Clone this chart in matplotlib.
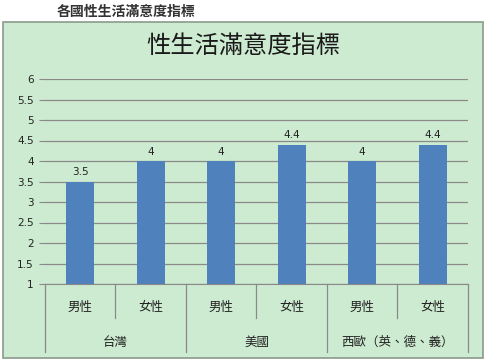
import matplotlib.pyplot as plt
from matplotlib.patches import Rectangle
from matplotlib.transforms import blended_transform_factory

plt.rcParams['font.family'] = ['Noto Sans CJK TC', 'DejaVu Sans']

# data
genders = ["男性", "女性", "男性", "女性", "男性", "女性"]
regions = ["台灣", "美國", "西歐（英、德、義）"]
scores = [3.5, 4, 4, 4.4, 4, 4.4]
y_ticks = [1, 1.5, 2, 2.5, 3, 3.5, 4, 4.5, 5, 5.5, 6]

W, H = 485, 362
BG = "#cdebd1"
BAR = "#4f81bd"
LINE = "#8a8a8a"

fig = plt.figure(figsize=(W / 100, H / 100), dpi=100)

# green chart box, kept behind the axes
fig.patches.append(Rectangle((3 / W, 1 - 358 / H), 480 / W, 336 / H,
                             transform=fig.transFigure, facecolor=BG,
                             edgecolor="#8c9a8c", linewidth=1.2, zorder=-10))

fig.text(57 / W, 1 - 12 / H, "各國性生活滿意度指標", fontsize=10,
         fontweight="bold", color="#333333", va="center", ha="left")
fig.text(243 / W, 1 - 46 / H, "性生活滿意度指標", fontsize=17.5,
         color="#1a1a1a", va="center", ha="center")

left, right, top, bottom = 45, 468, 79, 284
ax = fig.add_axes([left / W, 1 - bottom / H, (right - left) / W, (bottom - top) / H])
ax.set_facecolor("none")

x = list(range(len(scores)))
bars = ax.bar(x, scores, width=0.4, color=BAR, zorder=3)
for xi, v in zip(x, scores):
    ax.text(xi, v + 0.1, f"{v:g}", ha="center", va="bottom", fontsize=7.5,
            color="#222222", family="DejaVu Sans")

ax.set_xlim(-0.5, len(scores) - 0.5)
ax.set_ylim(1, 6)
ax.set_yticks(y_ticks)
ax.set_yticklabels([f"{t:g}" for t in y_ticks], family="DejaVu Sans")
ax.tick_params(axis="y", length=4, color=LINE, labelsize=7.5, pad=4,
               labelcolor="#222222")
ax.set_xticks([])
ax.grid(axis="y", color=LINE, linewidth=0.9, zorder=0)
for s in ["top", "right", "left"]:
    ax.spines[s].set_visible(False)
ax.spines["bottom"].set_color(LINE)
ax.spines["bottom"].set_zorder(4)

# multi-level category axis
tr = blended_transform_factory(ax.transData, ax.transAxes)
ah = bottom - top
row1 = -(318 - bottom) / ah
row2 = -(352 - bottom) / ah
for i in range(len(scores) + 1):
    xb = i - 0.5
    yend = row2 if i % 2 == 0 else row1
    ax.plot([xb, xb], [0, yend], color=LINE, linewidth=0.9,
            transform=tr, clip_on=False)
for xi, g in zip(x, genders):
    ax.text(xi, -(307 - bottom) / ah, g, transform=tr, ha="center",
            va="center", fontsize=9, color="#222222")
for j, r in enumerate(regions):
    ax.text(2 * j + 0.5, -(342 - bottom) / ah, r, transform=tr, ha="center",
            va="center", fontsize=9, color="#222222")

fig.savefig("out.png", dpi=100)
